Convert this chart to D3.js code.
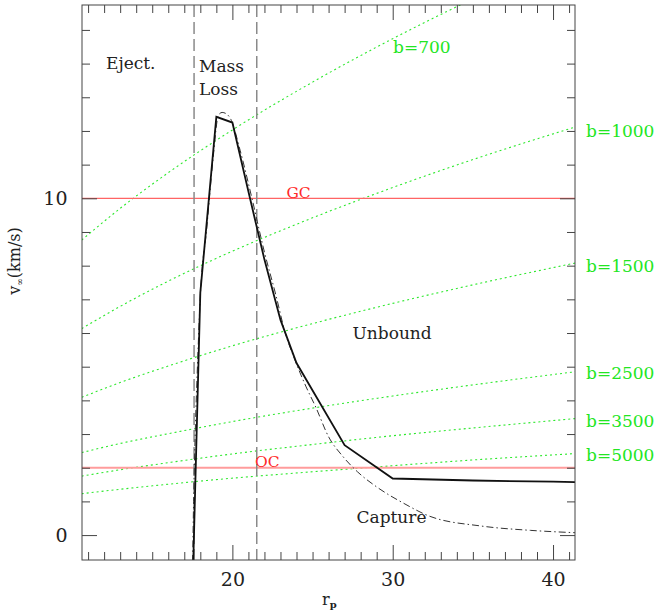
<!DOCTYPE html>
<html lang="en">
<head>
  <meta charset="UTF-8" />
  <title>v_inf vs r_p</title>
  <script src="https://d3js.org/d3.v7.min.js"></script>
  <style>
    body { margin: 0; background: white; }
    svg { display: block; background: white; font-family: "DejaVu Serif", serif; }
  </style>
</head>
<body>
  <script>
    // solid curve (r_p, v_inf)
    const rSolid = [17.56, 18, 19, 20, 21, 22, 23, 24, 27, 30, 35, 40, 41.4];
    const vSolid = [-0.8, 7.2, 12.42, 12.25, 10.2, 8.18, 6.39, 5.11, 2.67, 1.68, 1.62, 1.585, 1.575];

    // dash-dot curve
    const rDashDot = [17.52, 17.58, 17.68, 17.82, 18.0, 18.4, 18.8, 19.13, 19.36, 19.65, 19.9, 20.48, 21.22,
      22.0, 22.7, 23.3, 23.9, 24.6, 25.2, 26.0, 26.9, 27.8, 29.0, 30.7, 32.3, 35.5, 38.6, 41.4];
    const vDashDot = [-0.8, 1.0, 3.0, 5.0, 7.1, 9.1, 11.2, 12.47, 12.55, 12.5, 12.35, 11.43, 10.0,
      8.4, 7.15, 6.0, 5.2, 4.4, 3.8, 2.92, 2.33, 1.88, 1.43, 0.94, 0.56, 0.27, 0.14, 0.07];

    // dotted green lines of constant b
    const rGreen = [10.6, 13, 16, 20, 25, 30, 35, 41.4];
    const vB700 = [8.76, 9.70, 10.76, 12.03, 13.45, 14.74, 15.92, 17.31];
    const vB1000 = [6.13, 6.79, 7.54, 8.43, 9.42, 10.32, 11.15, 12.12];
    const vB1500 = [4.09, 4.53, 5.02, 5.62, 6.28, 6.88, 7.43, 8.08];
    const vB2500 = [2.45, 2.72, 3.01, 3.37, 3.77, 4.13, 4.46, 4.85];
    const vB3500 = [1.75, 1.94, 2.15, 2.41, 2.69, 2.95, 3.18, 3.46];
    const vB5000 = [1.23, 1.36, 1.51, 1.69, 1.88, 2.06, 2.23, 2.42];
    const bLabels = ['b=700', 'b=1000', 'b=1500', 'b=2500', 'b=3500', 'b=5000'];

    // reference lines
    const gcV = 10, ocV = 2;
    const zoneR = [17.61, 21.52];

    const xTicksMajor = [20, 30, 40];
    const yTicksMajor = [0, 10];

    const w = 672, h = 615;
    const mLeft = 82, mRight = 575, mTop = 5, mBottom = 560;

    const svg = d3.select('body').append('svg').attr('width', w).attr('height', h);

    const x = d3.scaleLinear().domain([10.62, 41.37]).range([mLeft, mRight]);
    const y = d3.scaleLinear().domain([-0.74, 15.74]).range([mBottom, mTop]);

    svg.append('clipPath').attr('id', 'plot')
      .append('rect').attr('x', mLeft).attr('y', mTop).attr('width', mRight - mLeft).attr('height', mBottom - mTop);

    const plot = svg.append('g').attr('clip-path', 'url(#plot)');

    // green b lines
    const greens = [vB700, vB1000, vB1500, vB2500, vB3500, vB5000];
    const gLine = d3.line().x((d, i) => x(rGreen[i])).y(d => y(d)).curve(d3.curveMonotoneX);
    greens.forEach(vals => {
      plot.append('path').attr('d', gLine(vals))
        .attr('fill', 'none').attr('stroke', '#2ee82e').attr('stroke-width', 1.1)
        .attr('stroke-dasharray', '2,3');
    });

    // red lines
    plot.append('line').attr('x1', mLeft).attr('x2', mRight).attr('y1', y(gcV)).attr('y2', y(gcV))
      .attr('stroke', '#ff6464').attr('stroke-width', 1.2);
    plot.append('line').attr('x1', mLeft).attr('x2', mRight).attr('y1', y(ocV)).attr('y2', y(ocV))
      .attr('stroke', '#ff9c9c').attr('stroke-width', 2);

    // vertical dashed
    zoneR.forEach(r => {
      plot.append('line').attr('x1', x(r)).attr('x2', x(r)).attr('y1', mTop).attr('y2', mBottom)
        .attr('stroke', '#8a8a8a').attr('stroke-width', 1.5).attr('stroke-dasharray', '12,5');
    });

    // dash-dot curve
    const ddLine = d3.line().x((d, i) => x(rDashDot[i])).y(d => y(d)).curve(d3.curveMonotoneX);
    plot.append('path').attr('d', ddLine(vDashDot))
      .attr('fill', 'none').attr('stroke', '#333').attr('stroke-width', 1)
      .attr('stroke-dasharray', '7,3,1.5,3');

    // solid curve
    const sLine = d3.line().x((d, i) => x(rSolid[i])).y(d => y(d));
    plot.append('path').attr('d', sLine(vSolid))
      .attr('fill', 'none').attr('stroke', '#111').attr('stroke-width', 1.8)
      .attr('stroke-linejoin', 'miter');

    // frame and ticks
    svg.append('rect').attr('x', mLeft).attr('y', mTop).attr('width', mRight - mLeft).attr('height', mBottom - mTop)
      .attr('fill', 'none').attr('stroke', '#444').attr('stroke-width', 1);

    const xMinor = d3.range(11, 42).filter(v => !xTicksMajor.includes(v));
    const yMinor = d3.range(0, 16).filter(v => !yTicksMajor.includes(v));

    function styleAxis(g) {
      g.select('.domain').remove();
      g.selectAll('.tick line').attr('stroke', '#444');
      g.selectAll('.tick text').attr('fill', '#222').attr('font-size', 19)
        .attr('font-family', '"DejaVu Serif", serif');
    }

    svg.append('g').attr('transform', `translate(0,${mBottom})`)
      .call(d3.axisBottom(x).tickValues(xMinor).tickSize(-8).tickFormat('')).call(styleAxis);
    svg.append('g').attr('transform', `translate(0,${mBottom})`)
      .call(d3.axisBottom(x).tickValues(xTicksMajor).tickSize(-15).tickPadding(13).tickFormat(d3.format('d')))
      .call(styleAxis);
    svg.append('g').attr('transform', `translate(0,${mTop})`)
      .call(d3.axisTop(x).tickValues(xMinor).tickSize(-8).tickFormat('')).call(styleAxis);
    svg.append('g').attr('transform', `translate(0,${mTop})`)
      .call(d3.axisTop(x).tickValues(xTicksMajor).tickSize(-15).tickFormat('')).call(styleAxis);

    svg.append('g').attr('transform', `translate(${mLeft},0)`)
      .call(d3.axisLeft(y).tickValues(yMinor).tickSize(-8).tickFormat('')).call(styleAxis);
    svg.append('g').attr('transform', `translate(${mLeft},0)`)
      .call(d3.axisLeft(y).tickValues(yTicksMajor).tickSize(-15).tickPadding(14.5).tickFormat(d3.format('d')))
      .call(styleAxis);
    svg.append('g').attr('transform', `translate(${mRight},0)`)
      .call(d3.axisRight(y).tickValues(yMinor).tickSize(-8).tickFormat('')).call(styleAxis);
    svg.append('g').attr('transform', `translate(${mRight},0)`)
      .call(d3.axisRight(y).tickValues(yTicksMajor).tickSize(-15).tickFormat('')).call(styleAxis);

    // axis labels
    const yl = svg.append('text').attr('transform', 'translate(20,261) rotate(-90)')
      .attr('text-anchor', 'middle').attr('font-size', 16).attr('fill', '#222');
    yl.append('tspan').text('v');
    yl.append('tspan').attr('font-size', 9).attr('dy', 3).text('\u221e');
    yl.append('tspan').attr('dy', -3).text('(km/s)');

    const xl = svg.append('text').attr('x', 322).attr('y', 605).attr('font-size', 16).attr('fill', '#222');
    xl.append('tspan').text('r');
    xl.append('tspan').attr('font-size', 10).attr('font-weight', 'bold').attr('dy', 3).text('p');

    // region labels
    const labels = [
      { t: 'Eject.', x: 106, y: 69 },
      { t: 'Mass', x: 199, y: 71.5 },
      { t: 'Loss', x: 199, y: 95 },
      { t: 'Unbound', x: 352.5, y: 339 },
      { t: 'Capture', x: 356.5, y: 523 }
    ];
    labels.forEach(l => {
      svg.append('text').attr('x', l.x).attr('y', l.y).attr('font-size', 17).attr('fill', '#222').text(l.t);
    });

    svg.append('text').attr('x', x(20) + 54).attr('y', y(gcV) - 0.5).attr('font-size', 15.5)
      .attr('fill', '#ff2a2a').text('GC');
    svg.append('text').attr('x', 255).attr('y', y(ocV) - 0.5).attr('font-size', 15.5)
      .attr('fill', '#ff2a2a').text('OC');

    // b labels
    const bPos = [[393, 47], [586, 131], [586, 266], [586, 373], [586, 421], [586, 454.5]];
    bLabels.forEach((t, i) => {
      svg.append('text').attr('x', bPos[i][0]).attr('y', bPos[i][1]).attr('dy', '0.36em')
        .attr('font-size', 17).attr('fill', '#22e622').text(t);
    });
  </script>
</body>
</html>
